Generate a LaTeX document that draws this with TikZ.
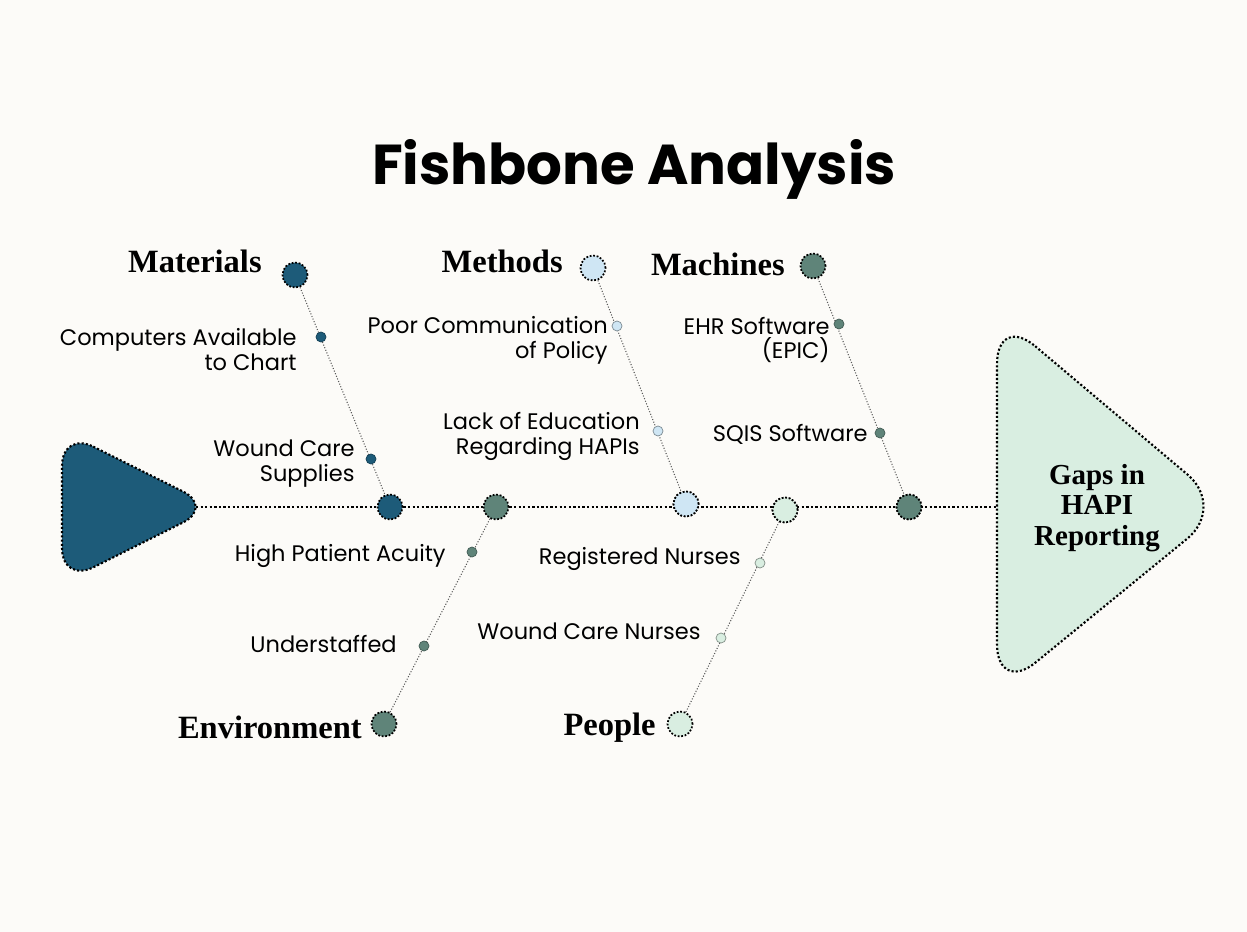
\documentclass[tikz,border=0pt]{standalone}
\usepackage{fontspec}
\setmainfont{Poppins}
\newfontfamily\serifhead{Liberation Serif}
\usetikzlibrary{positioning}

\definecolor{paper}{HTML}{FCFBF8}
\definecolor{deepteal}{HTML}{1D5B79}
\definecolor{sage}{HTML}{5F8479}
\definecolor{skyblue}{HTML}{CFE6F4}
\definecolor{mint}{HTML}{D9EEE1}

\begin{document}
\begin{tikzpicture}[x=0.02cm,y=-0.02cm,
                    spine/.style={line width=1.3pt,dash pattern=on 1.3pt off 1.3pt},
                    bone/.style={draw=black!65,line width=0.6pt,densely dotted}]
  \tikzstyle{bigdot}=[circle,inner sep=0pt,minimum size=0.5cm,draw=black,
                      line width=1pt,dash pattern=on 1pt off 1pt]
  \tikzstyle{smalldot}=[circle,inner sep=0pt,minimum size=0.2cm,line width=0.4pt]
  \tikzstyle{category}=[inner sep=0pt,anchor=base east,
                        font=\serifhead\bfseries\fontsize{18.5}{20}\selectfont]
  \tikzstyle{cause}=[inner sep=0pt,anchor=east,align=right,
                     font=\fontsize{12.8}{14.2}\selectfont]

  % background and frame
  \fill[paper] (0,0) rectangle (1247,932);
  \useasboundingbox (0,0) rectangle (1247,932);

  \node[font=\bfseries\fontsize{32}{36}\selectfont,anchor=base] (title) at (634,185)
       {Fishbone Analysis};

  % tail and head of the fish
  \draw[fill=deepteal,line width=1.2pt,dash pattern=on 1.2pt off 1.2pt,
        rounded corners=0.7cm] (62,431) -- (214,507) -- (62,583) -- cycle;
  \draw[fill=mint,line width=1.2pt,dash pattern=on 1.2pt off 1.2pt,
        rounded corners=1cm] (997,314) -- (1226,507) -- (997,694) -- cycle;
  \coordinate (tail) at (196,507);
  \coordinate (headin) at (997,507);
  \node[align=center,font=\serifhead\bfseries\fontsize{16.5}{17.5}\selectfont]
       (effect) at (1097,508) {Gaps in\\HAPI\\Reporting};

  % junctions on the spine
  \node[bigdot,fill=deepteal] (jmat)  at (390,507) {};
  \node[bigdot,fill=sage]     (jenv)  at (496,507) {};
  \node[bigdot,fill=skyblue]  (jmeth) at (686,504) {};
  \node[bigdot,fill=mint]     (jpeo)  at (785,510) {};
  \node[bigdot,fill=sage]     (jmach) at (909,507) {};

  % ends of the bones
  \node[bigdot,fill=deepteal] (mat)  at (295,275) {};
  \node[bigdot,fill=skyblue]  (meth) at (593,268) {};
  \node[bigdot,fill=sage]     (mach) at (813,266) {};
  \node[bigdot,fill=sage]     (env)  at (384,724) {};
  \node[bigdot,fill=mint]     (peo)  at (680,724) {};

  \draw[spine] (tail) -- (jmat) -- (jenv) -- (headin);
  \draw[bone] (mat) -- (jmat);
  \draw[bone] (meth) -- (jmeth);
  \draw[bone] (mach) -- (jmach);
  \draw[bone] (env) -- (jenv);
  \draw[bone] (peo) -- (jpeo);
  % redraw the junctions over the spine
  \node[bigdot,fill=skyblue] at (jmeth) {};
  \node[bigdot,fill=mint]    at (jpeo) {};
  \node[bigdot,fill=sage]    at (jmach) {};

  % causes
  \node[smalldot,fill=deepteal,draw=deepteal!70!black] (c1) at (321,337) {};
  \node[smalldot,fill=deepteal,draw=deepteal!70!black] (c2) at (371,459) {};
  \node[smalldot,fill=skyblue,draw=skyblue!60!black]   (c3) at (617,326) {};
  \node[smalldot,fill=skyblue,draw=skyblue!60!black]   (c4) at (658,431) {};
  \node[smalldot,fill=sage,draw=sage!70!black]         (c5) at (839,324) {};
  \node[smalldot,fill=sage,draw=sage!70!black]         (c6) at (880,433) {};
  \node[smalldot,fill=sage,draw=sage!70!black]         (c7) at (472,552) {};
  \node[smalldot,fill=sage,draw=sage!70!black]         (c8) at (424,646) {};
  \node[smalldot,fill=mint,draw=mint!60!black]         (c9) at (760,563) {};
  \node[smalldot,fill=mint,draw=mint!60!black]         (c10) at (721,638) {};

  \node[cause] (t1)  at (297,350) {Computers Available\\to Chart};
  \node[cause] (t2)  at (355,464) {Wound Care\\Supplies};
  \node[cause] (t3)  at (608,340) {Poor Communication\\of Policy};
  \node[cause] (t4)  at (640,436) {Lack of Education\\Regarding HAPIs};
  \node[cause] (t5)  at (830,340) {EHR Software\\(EPIC)};
  \node[cause] (t6)  at (868,434) {SQIS Software};
  \node[cause] (t7)  at (446,556) {High Patient Acuity};
  \node[cause] (t8)  at (397,644) {Understaffed};
  \node[cause] (t9)  at (741,559) {Registered Nurses};
  \node[cause] (t10) at (701,631) {Wound Care Nurses};

  % category names
  \node[category] (lmat)  at (262,273) {Materials};
  \node[category] (lmeth) at (563,273) {Methods};
  \node[category] (lmach) at (785,276) {Machines};
  \node[category] (lenv)  at (362,738) {Environment};
  \node[category] (lpeo)  at (656,735) {People};
\end{tikzpicture}
\end{document}
